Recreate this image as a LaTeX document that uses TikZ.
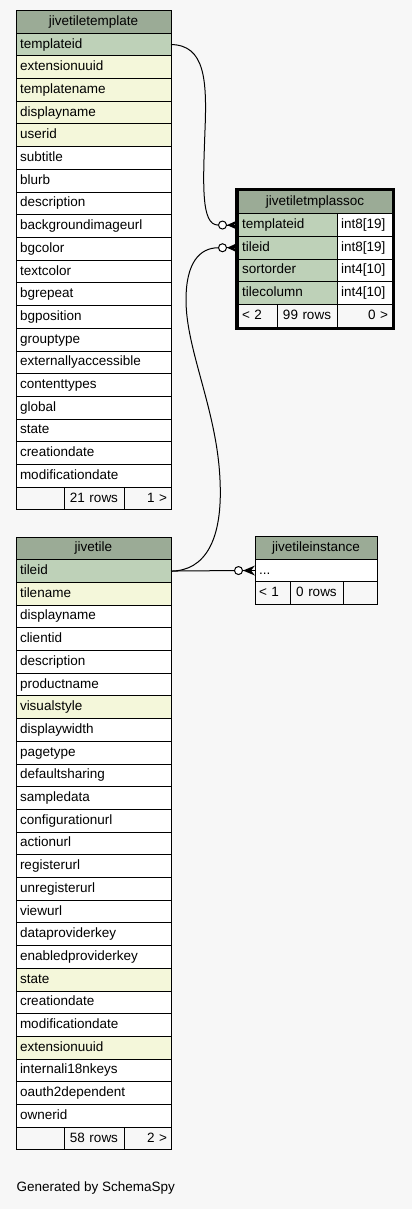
\documentclass[tikz,border=0pt]{standalone}
\usepackage{fontspec}
\setmainfont{Liberation Sans}
\usepackage{tikz}
\usetikzlibrary{positioning,fit}
\definecolor{bggray}{HTML}{F7F7F7}
\definecolor{headgreen}{HTML}{9BAB96}
\definecolor{keygreen}{HTML}{BED1B8}
\definecolor{idxyellow}{HTML}{F4F7DA}

\begin{document}
\begin{tikzpicture}[
    x=1pt,
    y=1pt,
    node distance=0pt,
    line width=1pt,
    font=\fontsize{13.5}{16}\selectfont,
    thead/.style={
		rectangle,
		draw=black,
		fill=headgreen,
		text centered,
		text height=10pt,
		text depth=3pt,
		inner sep=0pt,
		outer sep=0pt,
		minimum height=22.7pt,
		minimum width=155pt
	},
	field/.style={
		rectangle,
		draw=black,
		fill=white,
		align=left,
		text width=147pt,
		text height=10pt,
		text depth=3pt,
		inner xsep=4pt,
		inner ysep=0pt,
		outer sep=0pt,
		minimum height=22.7pt
	},
	keyfield/.style={field, fill=keygreen},
	idxfield/.style={field, fill=idxyellow},
	foot/.style={field, fill=bggray},
	odot/.style={
		circle,
		draw=black,
		fill=white,
		inner sep=0pt,
		minimum size=8pt
	}
  ]

 \useasboundingbox [fill=bggray] (0,0) rectangle (412,-1209);

% // jivetiletemplate
 \node [thead, anchor=north west] (tpl) at (16,-10.5) {jivetiletemplate};
 \node [keyfield, below=of tpl] (tpl1) {templateid};
 \node [idxfield, below=of tpl1] (tpl2) {extensionuuid};
 \node [idxfield, below=of tpl2] (tpl3) {templatename};
 \node [idxfield, below=of tpl3] (tpl4) {displayname};
 \node [idxfield, below=of tpl4] (tpl5) {userid};
 \node [field, below=of tpl5] (tpl6) {subtitle};
 \node [field, below=of tpl6] (tpl7) {blurb};
 \node [field, below=of tpl7] (tpl8) {description};
 \node [field, below=of tpl8] (tpl9) {backgroundimageurl};
 \node [field, below=of tpl9] (tpl10) {bgcolor};
 \node [field, below=of tpl10] (tpl11) {textcolor};
 \node [field, below=of tpl11] (tpl12) {bgrepeat};
 \node [field, below=of tpl12] (tpl13) {bgposition};
 \node [field, below=of tpl13] (tpl14) {grouptype};
 \node [field, below=of tpl14] (tpl15) {externallyaccessible};
 \node [field, below=of tpl15] (tpl16) {contenttypes};
 \node [field, below=of tpl16] (tpl17) {global};
 \node [field, below=of tpl17] (tpl18) {state};
 \node [field, below=of tpl18] (tpl19) {creationdate};
 \node [field, below=of tpl19] (tpl20) {modificationdate};
 \node [foot, text width=40pt, below=of tpl20.south west, anchor=north west] (tplf1) {};
 \node [foot, text width=52pt, align=center, right=of tplf1] (tplf2) {21 rows};
 \node [foot, text width=39pt, align=right, right=of tplf2] (tplf3) {1 >};

% // jivetile
 \node [thead, anchor=north west] (tile) at (16,-537) {jivetile};
 \node [keyfield, below=of tile] (tile1) {tileid};
 \node [idxfield, below=of tile1] (tile2) {tilename};
 \node [field, below=of tile2] (tile3) {displayname};
 \node [field, below=of tile3] (tile4) {clientid};
 \node [field, below=of tile4] (tile5) {description};
 \node [field, below=of tile5] (tile6) {productname};
 \node [idxfield, below=of tile6] (tile7) {visualstyle};
 \node [field, below=of tile7] (tile8) {displaywidth};
 \node [field, below=of tile8] (tile9) {pagetype};
 \node [field, below=of tile9] (tile10) {defaultsharing};
 \node [field, below=of tile10] (tile11) {sampledata};
 \node [field, below=of tile11] (tile12) {configurationurl};
 \node [field, below=of tile12] (tile13) {actionurl};
 \node [field, below=of tile13] (tile14) {registerurl};
 \node [field, below=of tile14] (tile15) {unregisterurl};
 \node [field, below=of tile15] (tile16) {viewurl};
 \node [field, below=of tile16] (tile17) {dataproviderkey};
 \node [field, below=of tile17] (tile18) {enabledproviderkey};
 \node [idxfield, below=of tile18] (tile19) {state};
 \node [field, below=of tile19] (tile20) {creationdate};
 \node [field, below=of tile20] (tile21) {modificationdate};
 \node [idxfield, below=of tile21] (tile22) {extensionuuid};
 \node [field, below=of tile22] (tile23) {internali18nkeys};
 \node [field, below=of tile23] (tile24) {oauth2dependent};
 \node [field, below=of tile24] (tile25) {ownerid};
 \node [foot, text width=40pt, below=of tile25.south west, anchor=north west] (tilef1) {};
 \node [foot, text width=52pt, align=center, right=of tilef1] (tilef2) {58 rows};
 \node [foot, text width=39pt, align=right, right=of tilef2] (tilef3) {2 >};

% // jivetiletmplassoc
 \node [thead, minimum width=154pt, anchor=north west] (asc) at (238,-191) {jivetiletmplassoc};
 \node [keyfield, text width=91pt, below=of asc.south west, anchor=north west] (asc1) {templateid};
 \node [field, text width=47pt, right=of asc1] (asc1t) {int8[19]};
 \node [keyfield, text width=91pt, below=of asc1] (asc2) {tileid};
 \node [field, text width=47pt, right=of asc2] (asc2t) {int8[19]};
 \node [keyfield, text width=91pt, below=of asc2] (asc3) {sortorder};
 \node [field, text width=47pt, right=of asc3] (asc3t) {int4[10]};
 \node [keyfield, text width=91pt, below=of asc3] (asc4) {tilecolumn};
 \node [field, text width=47pt, right=of asc4] (asc4t) {int4[10]};
 \node [foot, text width=31pt, below=of asc4.south west, anchor=north west] (ascf1) {< 2};
 \node [foot, text width=52pt, align=center, right=of ascf1] (ascf2) {99 rows};
 \node [foot, text width=47pt, align=right, right=of ascf2] (ascf3) {0 >};
 \node [draw=black, line width=3pt, inner sep=1.5pt, fit=(asc) (ascf1) (ascf3)] (ascbox) {};

% // jivetileinstance
 \node [thead, minimum width=122pt, anchor=north west] (inst) at (255,-536.5) {jivetileinstance};
 \node [field, text width=114pt, below=of inst] (inst1) {...};
 \node [foot, text width=27pt, below=of inst1.south west, anchor=north west] (instf1) {< 1};
 \node [foot, text width=45pt, align=center, right=of instf1] (instf2) {0 rows};
 \node [foot, text width=26pt, right=of instf2] (instf3) {};

% // relations
 \node [odot, left=11pt of asc1.west] (asc1o) {};
 \node [odot, left=11pt of asc2.west] (asc2o) {};
 \node [odot, left=12pt of inst1.west] (inst1o) {};

 \draw (tpl1.east) .. controls (205,-45) and (207,-80) .. (205,-130)
   .. controls (203,-185) and (201,-225) .. (asc1o.west);
 \draw (tile1.east) .. controls (205,-571) and (223,-540) .. (220,-480)
   .. controls (217,-410) and (186,-350) .. (186,-300)
   .. controls (186,-262) and (200,-248) .. (asc2o.west);
 \draw (tile1.east) -- (inst1o.west);

 \draw (asc1o.east) -- (asc1.west);
 \fill (asc1o.east) -- ++(11,5) -- ++(-4,-5) -- ++(4,-5) -- cycle;
 \draw (asc2o.east) -- (asc2.west);
 \fill (asc2o.east) -- ++(11,5) -- ++(-4,-5) -- ++(4,-5) -- cycle;
 \draw (inst1o.east) -- (inst1.west);
 \fill (inst1o.east) -- ++(12,5) -- ++(-4,-5) -- ++(4,-5) -- cycle;

 \node [anchor=west, inner sep=0pt] (credit) at (16,-1188) {Generated by SchemaSpy};

\end{tikzpicture}
\end{document}
